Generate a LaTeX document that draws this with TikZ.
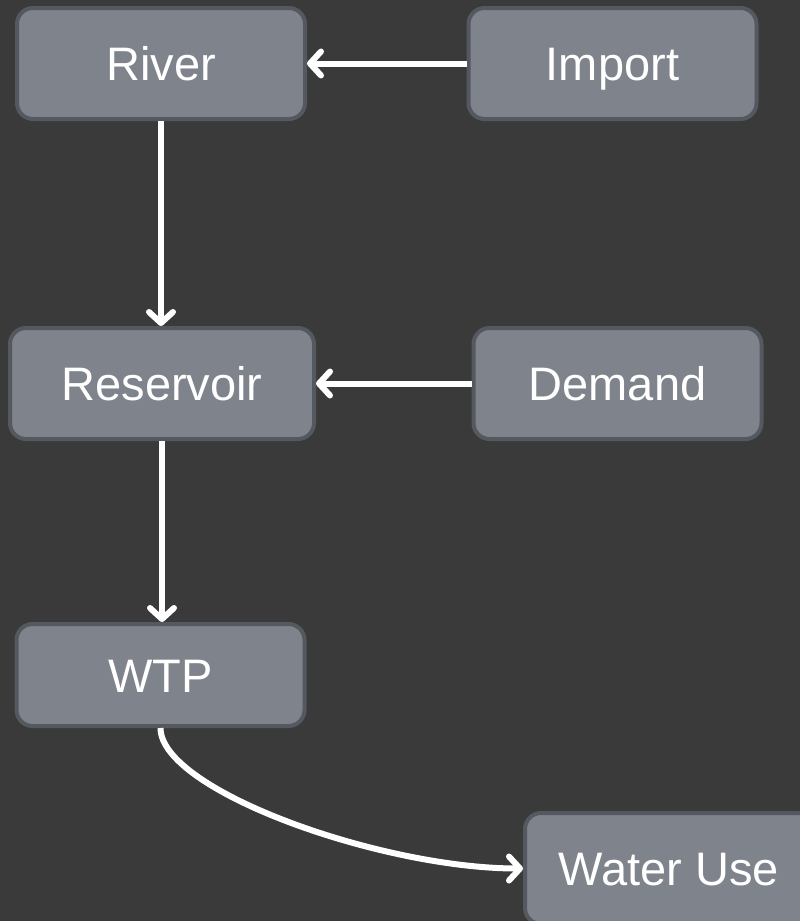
\documentclass[tikz,border=0pt]{standalone}
\usepackage{fontspec}
\setmainfont{Liberation Sans}
\usepackage{tikz}
\usetikzlibrary{arrows.meta}
\usepackage{xcolor}
\definecolor{backdrop}{RGB}{58,58,58}
\definecolor{stagefill}{RGB}{127,131,140}
\definecolor{stageline}{RGB}{84,88,95}
\tikzset{
    stage/.style={draw=stageline, fill=stagefill, line width=4pt, rounded corners=16pt,
        text=white, font=\fontsize{47}{56}\selectfont, inner sep=0pt,
        minimum width=288pt, minimum height=111pt, text height=34pt, text depth=0pt},
    flow/.style={draw=white, line width=6pt, -{Straight Barb[length=11pt, width=24pt, round]}}
}

\begin{document}
\begin{tikzpicture}[x=1pt, y=-1pt]
    \useasboundingbox (0,0) rectangle (800,921);
    \clip (0,0) rectangle (800,921);
    \fill[backdrop] (0,0) rectangle (800,921);
    \node[stage] (river) at (161,63.5) {River};
    \node[stage] (import) at (612.5,63.5) {Import};
    \node[stage, minimum width=304pt] (reservoir) at (162,383.5) {Reservoir};
    \node[stage] (demand) at (617.5,383.5) {Demand};
    \node[stage, minimum height=102pt] (wtp) at (160.5,675) {WTP};
    \node[stage] (wateruse) at (669,868.5) {Water Use};
    \draw[flow] (import) -- (river);
    \draw[flow] (demand) -- (reservoir);
    \draw[flow] (river.south) -- (river.south |- reservoir.north);
    \draw[flow] (reservoir.south) -- (reservoir.south |- wtp.north);
    \draw[flow] (wtp.south) .. controls +(0,62) and +(-143,0) .. (wateruse.west);
\end{tikzpicture}
\end{document}
